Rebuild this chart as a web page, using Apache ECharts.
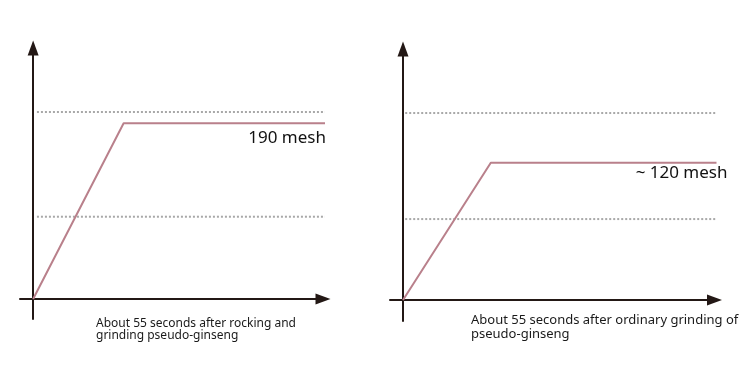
<!DOCTYPE html>
<html>
<head>
<meta charset="utf-8">
<script src="https://cdn.jsdelivr.net/npm/echarts@6/dist/echarts.min.js"></script>
<style>
html,body{margin:0;padding:0;background:#fff;}
#chart{width:752px;height:387px;}
</style>
</head>
<body>
<div id="chart"></div>
<script>
// Data (arbitrary units)
var leftX = [0, 31, 100];
var leftY = [0, 94, 94];
var rightX = [0, 28, 100];
var rightY = [0, 73.4, 73.4];
var leftGuides = [100, 44];
var rightGuides = [100, 43.3];
var guideStartLeft = 1.3;
var guideStartRight = 0.7;
var labelLeft = '190 mesh';
var labelRight = '~ 120 mesh';
var captionLeft = 'About 55 seconds after rocking and\ngrinding pseudo-ginseng';
var captionRight = 'About 55 seconds after ordinary grinding of\npseudo-ginseng';

var AXIS = '#231815';
var PINK = '#b9808b';
var GUIDE = '#a8a8a8';
var FONT = 'Noto Sans';

function axisCfg(type, min, max, gridIndex) {
  return {
    type: 'value', gridIndex: gridIndex, min: min, max: max,
    axisLine: { show: true, onZero: true, lineStyle: { color: AXIS, width: 2 },
      symbol: ['none', 'triangle'], symbolSize: [11, 15], symbolOffset: [0, -2] },
    axisTick: { show: false }, axisLabel: { show: false }, splitLine: { show: false }
  };
}

function pairs(xs, ys) { return xs.map(function (x, i) { return [x, ys[i]]; }); }

function mainSeries(xs, ys, idx, text, dx, dist) {
  var data = pairs(xs, ys).map(function (p, i) {
    if (i === xs.length - 1) {
      return { value: p, label: { show: true, formatter: text, position: 'bottom', align: 'right',
        distance: dist, offset: [dx, 0], color: '#111', fontSize: 17, fontFamily: FONT } };
    }
    return { value: p };
  });
  return {
    type: 'line', xAxisIndex: idx, yAxisIndex: idx, data: data,
    symbol: 'circle', symbolSize: 1, itemStyle: { color: 'rgba(0,0,0,0)' },
    lineStyle: { color: PINK, width: 2 }, clip: false, silent: true, z: 3
  };
}

function guideSeries(y, x0, idx) {
  return {
    type: 'line', xAxisIndex: idx, yAxisIndex: idx, data: [[x0, y], [100, y]],
    symbol: 'none', lineStyle: { color: GUIDE, width: 2, type: [2, 2] }, silent: true, z: 2
  };
}

var series = [];
leftGuides.forEach(function (g) { series.push(guideSeries(g, guideStartLeft, 0)); });
rightGuides.forEach(function (g) { series.push(guideSeries(g, guideStartRight, 1)); });
series.push(mainSeries(leftX, leftY, 0, labelLeft, 1, 6));
series.push(mainSeries(rightX, rightY, 1, labelRight, 11, 1));

var chart = echarts.init(document.getElementById('chart'), null, { renderer: 'canvas' });
chart.setOption({
  backgroundColor: '#ffffff',
  animation: false,
  title: [
    { text: captionLeft, left: 96, top: 318, textStyle: { fontSize: 12, lineHeight: 12, fontWeight: 'normal', color: '#1a1a1a', fontFamily: FONT }, padding: 0 },
    { text: captionRight, left: 471, top: 313, textStyle: { fontSize: 13, lineHeight: 14, fontWeight: 'normal', color: '#1a1a1a', fontFamily: FONT }, padding: 0 }
  ],
  grid: [
    { left: 20, width: 305, top: 46, height: 273 },
    { left: 390, width: 326.5, top: 47, height: 274 }
  ],
  xAxis: [axisCfg('x', -4.5, 100, 0), axisCfg('x', -4.15, 100, 1)],
  yAxis: [axisCfg('y', -10.7, 135.3, 0), axisCfg('y', -11.2, 135.3, 1)],
  series: series
});
</script>
</body>
</html>
